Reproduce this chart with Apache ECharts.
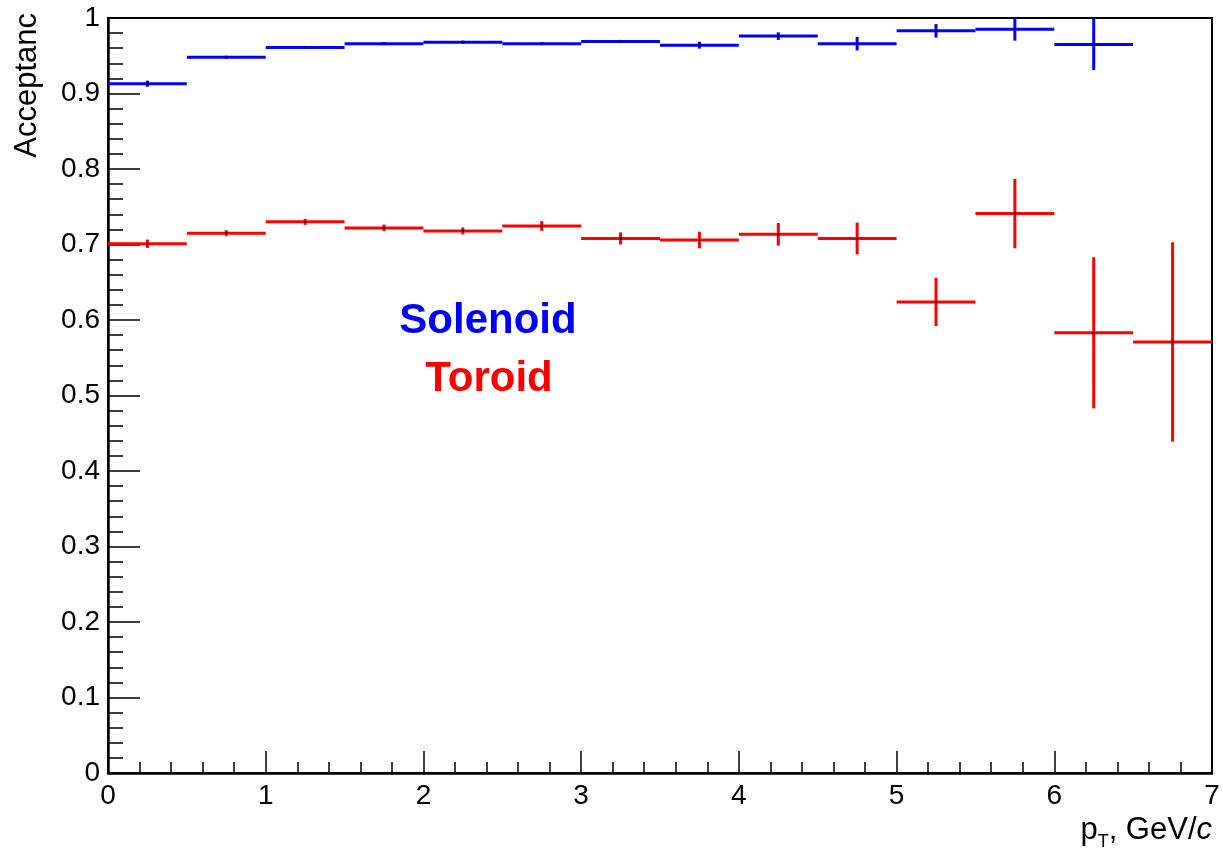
<!DOCTYPE html>
<html>
<head>
<meta charset="utf-8">
<script src="https://cdn.jsdelivr.net/npm/echarts@6/dist/echarts.min.js"></script>
<style>html,body{margin:0;padding:0;background:#fff}#c{width:1223px;height:862px}</style>
</head>
<body>
<div id="c"></div>
<script>
// Bin edges (pT, GeV/c)
const binLow  = [0, 0.5, 1, 1.5, 2, 2.5, 3, 3.5, 4, 4.5, 5, 5.5, 6, 6.5];
const binHigh = [0.5, 1, 1.5, 2, 2.5, 3, 3.5, 4, 4.5, 5, 5.5, 6, 6.5, 7];
// Solenoid acceptance and errors (13 bins)
const solenoidVal = [0.913, 0.948, 0.961, 0.966, 0.968, 0.966, 0.969, 0.964, 0.976, 0.966, 0.983, 0.985, 0.965];
const solenoidErr = [0.004, 0.002, 0.002, 0.002, 0.002, 0.002, 0.002, 0.0045, 0.005, 0.009, 0.009, 0.015, 0.034];
// Toroid acceptance and errors (14 bins)
const toroidVal = [0.701, 0.715, 0.730, 0.722, 0.718, 0.7245, 0.708, 0.706, 0.7135, 0.708, 0.624, 0.741, 0.583, 0.571];
const toroidErr = [0.0055, 0.004, 0.004, 0.0044, 0.0046, 0.0064, 0.008, 0.011, 0.015, 0.021, 0.032, 0.046, 0.100, 0.132];
const xTicks = [0, 1, 2, 3, 4, 5, 6, 7];
const yTicks = [0, 0.1, 0.2, 0.3, 0.4, 0.5, 0.6, 0.7, 0.8, 0.9, 1];

function build(vals, errs) {
  return vals.map((v, i) => [binLow[i], binHigh[i], v, errs[i]]);
}

function renderErr(color) {
  return function (params, api) {
    const x0 = api.value(0), x1 = api.value(1), y = api.value(2), e = api.value(3);
    const xc = (x0 + x1) / 2;
    const pL = api.coord([x0, y]), pR = api.coord([x1, y]);
    const pT = api.coord([xc, y + e]), pB = api.coord([xc, y - e]);
    const c = api.coord([xc, y]);
    return {
      type: 'group',
      children: [
        {type: 'line', shape: {x1: pL[0], y1: pL[1], x2: pR[0], y2: pR[1]}, style: {stroke: color, lineWidth: 3}},
        {type: 'line', shape: {x1: pT[0], y1: pT[1], x2: pB[0], y2: pB[1]}, style: {stroke: color, lineWidth: 3}},
        {type: 'rect', shape: {x: c[0] - 1, y: c[1] - 1, width: 2, height: 2}, style: {fill: '#000'}}
      ]
    };
  };
}

const font = '"Liberation Sans", Arial, Helvetica, sans-serif';
const chart = echarts.init(document.getElementById('c'), null, {renderer: 'canvas'});
chart.setOption({
  animation: false,
  backgroundColor: '#fff',
  grid: {left: 108, right: 11, top: 18, bottom: 89, show: true, borderColor: '#000', borderWidth: 2, backgroundColor: 'transparent'},
  xAxis: {
    type: 'value', min: 0, max: 7, interval: 1,
    axisLine: {show: true, lineStyle: {color: '#000', width: 2.5}},
    axisTick: {show: true, inside: true, length: 22, lineStyle: {color: '#000', width: 1.5}},
    minorTick: {show: true, splitNumber: 5, length: 11, lineStyle: {color: '#000', width: 1.5}},
    splitLine: {show: false},
    axisLabel: {color: '#000', fontSize: 28, fontFamily: font, margin: 9,
      formatter: v => xTicks.includes(v) ? String(v) : ''}
  },
  yAxis: {
    type: 'value', min: 0, max: 1, interval: 0.1,
    axisLine: {show: true, lineStyle: {color: '#000', width: 2.5}},
    axisTick: {show: true, inside: true, length: 32, lineStyle: {color: '#000', width: 1.5}},
    minorTick: {show: true, splitNumber: 5, length: 15, lineStyle: {color: '#000', width: 1.5}},
    splitLine: {show: false},
    axisLabel: {color: '#000', fontSize: 28, fontFamily: font, margin: 8,
      formatter: v => { const t = yTicks.find(k => Math.abs(k - v) < 1e-9); return t === undefined ? '' : (t === 0 ? '0' : t === 1 ? '1' : t.toFixed(1)); }}
  },
  series: [
    {name: 'Solenoid', type: 'custom', renderItem: renderErr('#0000ff'), data: build(solenoidVal, solenoidErr), encode: {x: [0, 1], y: 2}, clip: true},
    {name: 'Toroid', type: 'custom', renderItem: renderErr('#ff0000'), data: build(toroidVal, toroidErr), encode: {x: [0, 1], y: 2}, clip: true}
  ],
  graphic: [
    {type: 'text', x: 488, y: 321, style: {text: 'Solenoid', fill: '#0000ff', font: 'bold 42px ' + font, textAlign: 'center', textVerticalAlign: 'middle'}},
    {type: 'text', x: 489, y: 379, style: {text: 'Toroid', fill: '#ff0000', font: 'bold 42px ' + font, textAlign: 'center', textVerticalAlign: 'middle'}},
    {type: 'text', x: 27, y: 13, rotation: Math.PI / 2, style: {text: 'Acceptanc', fill: '#000', font: '31px ' + font, textAlign: 'right', textVerticalAlign: 'middle'}},
    {type: 'text', x: 1212, y: 830, style: {
      text: '{a|p}{s|T}{a|, GeV/}{i|c}', textAlign: 'right', textVerticalAlign: 'middle',
      rich: {
        a: {fontSize: 31, fontFamily: font, color: '#000'},
        s: {fontSize: 18, fontFamily: font, color: '#000', padding: [24, 0, 0, 0]},
        i: {fontSize: 31, fontFamily: font, fontStyle: 'italic', color: '#000'}
      }}}
  ]
});
</script>
</body>
</html>
